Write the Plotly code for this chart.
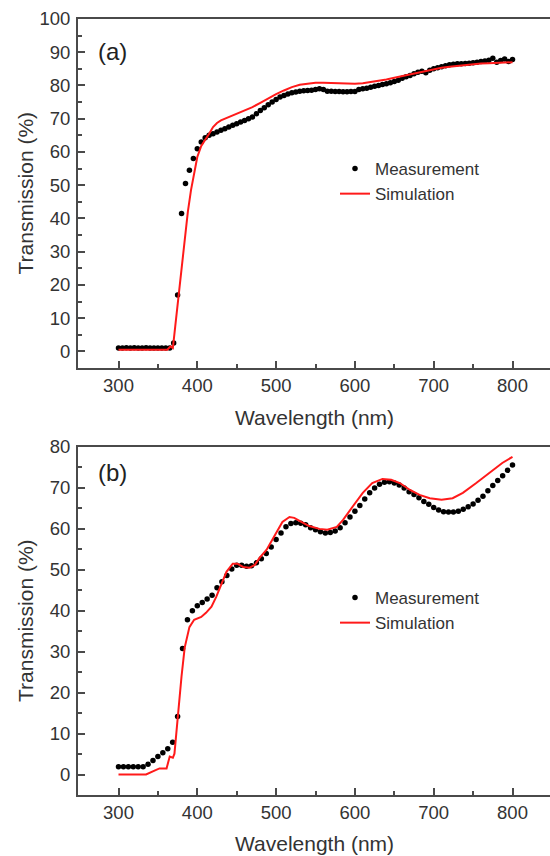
import numpy as np
import plotly.graph_objects as go
from plotly.subplots import make_subplots

# ---------------- Panel (a) data ----------------
wl_meas_a = list(range(300, 801, 5))
meas_a = [1.0, 1.0, 1.1, 1.0, 1.1, 1.0, 1.0, 1.1, 1.0, 1.0, 1.0, 1.0, 1.0, 1.0,
          2.5, 17.0, 41.5, 50.5, 54.5, 58.0, 61.0, 63.0, 64.3, 65.0, 65.5, 66.0,
          66.5, 67.0, 67.5, 68.0, 68.5, 69.0, 69.5, 70.0, 70.5, 71.5, 72.5, 73.3,
          74.2, 75.0, 75.8, 76.5, 77.0, 77.4, 77.8, 78.0, 78.3, 78.4, 78.5, 78.6,
          78.8, 79.0, 78.8, 78.3, 78.3, 78.2, 78.2, 78.1, 78.1, 78.2, 78.2, 78.8,
          79.0, 79.2, 79.5, 79.8, 80.0, 80.3, 80.5, 80.8, 81.2, 81.6, 82.2, 82.6,
          83.0, 83.5, 84.0, 84.3, 83.8, 84.6, 85.0, 85.3, 85.6, 85.9, 86.2, 86.4,
          86.5, 86.5, 86.6, 86.7, 86.8, 87.0, 87.2, 87.4, 87.6, 88.2, 87.0, 87.5,
          88.0, 87.2, 87.8]

wl_sim_a = [300, 310, 320, 330, 340, 350, 360, 362, 366, 369, 372, 376, 380, 384,
            388, 392, 396, 400, 405, 410, 415, 420, 425, 430, 440, 450, 460, 470,
            480, 490, 500, 510, 520, 530, 540, 550, 560, 570, 580, 590, 600, 610,
            620, 630, 640, 650, 660, 670, 680, 690, 700, 710, 720, 730, 740, 750,
            760, 770, 780, 790, 800]
sim_a = [0.5, 0.5, 0.5, 0.5, 0.5, 0.5, 0.5, 0.5, 1.5, 1.0, 7.5, 16.0, 25.0, 34.0,
         42.0, 48.5, 54.0, 58.5, 61.8, 63.5, 65.5, 67.5, 68.7, 69.5, 70.5, 71.3,
         72.3, 73.5, 74.8, 76.2, 77.4, 78.5, 79.5, 80.2, 80.6, 80.8, 80.8, 80.7,
         80.6, 80.5, 80.5, 80.7, 81.0, 81.4, 81.8, 82.3, 82.8, 83.3, 83.9, 84.4,
         84.9, 85.3, 85.6, 85.9, 86.2, 86.4, 86.6, 86.7, 86.8, 86.9, 87.0]

# ---------------- Panel (b) data ----------------
wl_meas_b = [300 + 6.25 * k for k in range(81)]
meas_b = [1.9, 1.9, 1.9, 1.9, 1.9, 1.9, 2.5, 3.4, 4.4, 5.3, 6.3, 7.9, 14.2, 30.8,
          37.8, 40.0, 41.2, 42.0, 42.9, 43.8, 45.6, 47.1, 48.6, 50.2, 51.1, 51.1,
          50.9, 51.0, 51.7, 52.7, 54.0, 55.6, 57.4, 59.0, 60.5, 61.3, 61.5, 61.4,
          61.0, 60.3, 59.8, 59.3, 59.0, 59.1, 59.5, 60.3, 61.5, 62.9, 64.3, 65.7,
          67.3, 68.8, 70.0, 70.9, 71.4, 71.5, 71.2, 70.7, 70.0, 69.1, 68.4, 67.6,
          66.7, 66.0, 65.2, 64.6, 64.2, 64.1, 64.1, 64.3, 64.8, 65.4, 66.1, 67.0,
          68.0, 69.3, 70.6, 71.8, 73.0, 74.3, 75.6]

wl_sim_b = [300, 310, 320, 335, 345, 352, 358, 361, 365, 369, 371, 375, 380, 384,
            390, 396, 405, 411, 418, 424, 431, 437, 445, 451, 458, 466, 473, 479,
            488, 496, 502, 508, 517, 523, 532, 542, 555, 565, 577, 585, 597, 610,
            622, 635, 646, 657, 670, 682, 695, 710, 724, 737, 754, 771, 787, 800]
sim_b = [0.0, 0.0, 0.0, 0.0, 0.9, 1.5, 1.5, 1.5, 4.4, 4.1, 5.1, 14.0, 24.0, 31.0,
         36.0, 37.8, 38.5, 39.5, 41.0, 43.4, 46.8, 49.5, 51.5, 51.5, 50.7, 50.5,
         51.2, 52.9, 54.9, 57.5, 59.8, 61.7, 62.9, 62.7, 61.7, 60.7, 60.0, 59.8,
         60.5, 62.2, 65.4, 68.8, 71.2, 72.2, 72.0, 71.2, 69.5, 68.3, 67.5, 67.1,
         67.5, 68.8, 71.2, 73.7, 76.1, 77.6]

x_ticks = [300, 400, 500, 600, 700, 800]
y_ticks_a = [0, 10, 20, 30, 40, 50, 60, 70, 80, 90, 100]
y_ticks_b = [0, 10, 20, 30, 40, 50, 60, 70, 80]

# ---------------- Figure ----------------
# figure is a little wider than the 550 px window; the right part is clipped,
# as the reference's frame runs off the right edge
W, H = 562, 856
ML, MR, MT, MB = 78, 0, 19, 61
PW, PH = W - ML - MR, H - MT - MB
XPX = 0.788  # px per nm


def py(px):  # pixel y -> paper y
    return (H - MB - px) / PH


def px_(x):  # pixel x -> paper x
    return (x - ML) / PW


FONT = "Liberation Sans, Arial, sans-serif"
TXT = "#333333"
AX = "#4a4a4a"

fig = make_subplots(rows=2, cols=1)

fig.add_trace(go.Scatter(x=wl_meas_a, y=meas_a, mode="markers", name="Measurement",
                         marker=dict(color="black", size=5.5), legend="legend"), row=1, col=1)
fig.add_trace(go.Scatter(x=wl_sim_a, y=sim_a, mode="lines", name="Simulation",
                         line=dict(color="#ff1a1a", width=2), legend="legend"), row=1, col=1)
fig.add_trace(go.Scatter(x=wl_meas_b, y=meas_b, mode="markers", name="Measurement",
                         marker=dict(color="black", size=5.5), legend="legend2"), row=2, col=1)
fig.add_trace(go.Scatter(x=wl_sim_b, y=sim_b, mode="lines", name="Simulation",
                         line=dict(color="#ff1a1a", width=2), legend="legend2"), row=2, col=1)

x_lo = 300 - (118.5 - ML) / XPX
x_hi = x_lo + PW / XPX
xcommon = dict(range=[x_lo, x_hi], tickvals=x_ticks, ticks="inside", ticklen=7, tickwidth=1.5,
               tickcolor=AX, showline=True, linecolor=AX, linewidth=2, mirror=True,
               showgrid=False, zeroline=False,
               tickfont=dict(family=FONT, size=18.5, color=TXT),
               minor=dict(tickvals=[350, 450, 550, 650, 750], ticks="inside", ticklen=4,
                          tickcolor=AX, tickwidth=1.5))
ycommon = dict(ticks="inside", ticklen=7, tickwidth=1.5, tickcolor=AX, showline=True,
               linecolor=AX, linewidth=2, showgrid=False, zeroline=False,
               tickfont=dict(family=FONT, size=18.5, color=TXT), ticklabelstandoff=2,
               minor=dict(dtick=5, tick0=0, ticks="inside", ticklen=4, tickcolor=AX, tickwidth=1.5))

fig.update_xaxes(**xcommon, domain=[0, 1])
fig.update_yaxes(**ycommon)
fig.update_yaxes(range=[-5, 100], tickvals=y_ticks_a, domain=[py(368), 1.0], row=1, col=1)
fig.update_yaxes(range=[-5, 80], tickvals=y_ticks_b, domain=[0.0, py(447)], row=2, col=1)

ann = []
for ytxt in [418, 843]:
    ann.append(dict(text="Wavelength (nm)", x=px_(314), y=py(ytxt), xref="paper", yref="paper",
                    showarrow=False, xanchor="center", yanchor="middle",
                    font=dict(family=FONT, size=21, color=TXT)))
for yc in [(19 + 368) / 2, (447 + 795) / 2]:
    ann.append(dict(text="Transmission (%)", x=px_(25), y=py(yc), xref="paper", yref="paper",
                    showarrow=False, xanchor="center", yanchor="middle", textangle=-90,
                    font=dict(family=FONT, size=21, color=TXT)))
for lab, yc in [("(a)", 52), ("(b)", 473)]:
    ann.append(dict(text=lab, x=px_(96), y=py(yc), xref="paper", yref="paper",
                    showarrow=False, xanchor="left", yanchor="middle",
                    font=dict(family=FONT, size=24, color="#222222")))

legstyle = dict(bgcolor="rgba(0,0,0,0)", borderwidth=0, xanchor="left", yanchor="top",
                font=dict(family=FONT, size=17, color=TXT), tracegroupgap=0, itemwidth=30)

fig.update_layout(
    width=W, height=H, margin=dict(l=ML, r=MR, t=MT, b=MB),
    paper_bgcolor="white", plot_bgcolor="white",
    showlegend=True,
    legend=dict(x=px_(335), y=py(151), **legstyle),
    legend2=dict(x=px_(335), y=py(580), **legstyle),
    annotations=ann,
)

fig.write_html("out.html", config={"displayModeBar": False},
               post_script="document.body.style.margin='0px';document.body.style.overflow='hidden';")
